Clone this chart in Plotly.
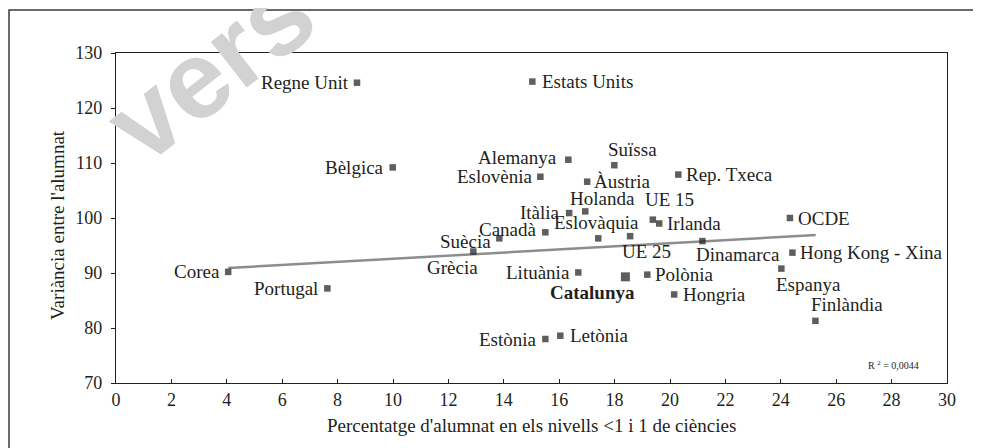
import plotly.graph_objects as go

# ---------------- data ----------------
countries = ["Regne Unit", "Estats Units", "Bèlgica", "Alemanya", "Eslovènia", "Suïssa",
             "Àustria", "Rep. Txeca", "Holanda", "Itàlia", "UE 15", "Irlanda", "OCDE",
             "Canadà", "Eslovàquia", "UE 25", "Suècia", "Grècia", "Dinamarca",
             "Hong Kong - Xina", "Corea", "Lituània", "Catalunya", "Polònia", "Espanya",
             "Portugal", "Hongria", "Finlàndia", "Estònia", "Letònia"]
pct_low_levels = [8.70, 15.03, 9.99, 16.33, 15.32, 17.99,
                  17.01, 20.30, 16.94, 16.36, 19.38, 19.61, 24.33,
                  15.50, 17.41, 18.56, 13.84, 12.90, 21.17,
                  24.42, 4.05, 16.69, 18.39, 19.18, 24.02,
                  7.63, 20.15, 25.25, 15.50, 16.04]
variance_between = [124.6, 124.8, 109.2, 110.6, 107.5, 109.6,
                    106.6, 107.9, 101.2, 100.9, 99.7, 99.0, 100.0,
                    97.4, 96.3, 96.7, 96.3, 93.9, 95.8,
                    93.7, 90.2, 90.1, 89.3, 89.7, 90.8,
                    87.2, 86.1, 81.3, 78.0, 78.6]
trend_x = [4.05, 25.26]
trend_y = [90.9, 96.9]
x_tick_values = list(range(0, 31, 2))
y_tick_values = [70, 80, 90, 100, 110, 120, 130]
r2_label = "R <sup>2</sup> = 0,0044"
x_title = "Percentatge d'alumnat en els nivells <1 i 1 de ciències"
y_title = "Variància entre l'alumnat"
highlight = "Catalunya"

# ---------------- label placement (style only) ----------------
placement = {
    "Regne Unit": ("L", 0, 0), "Estats Units": ("R", 2, 0), "Bèlgica": ("L", -1, 0),
    "Alemanya": ("L", -3, 2), "Eslovènia": ("L", 0, 0), "Suïssa": ("T", 18, 3),
    "Àustria": ("R", -1, 0), "Rep. Txeca": ("R", 0, 0), "Holanda": ("T", 17, 0),
    "Itàlia": ("L", -1, 1), "UE 15": ("T", 17, 8), "Irlanda": ("R", 0, 0),
    "OCDE": ("R", 0, 0), "Canadà": ("L", 0, 3), "Eslovàquia": ("T", -2, 3),
    "UE 25": ("B", 16, -3), "Suècia": ("L", 0, -3), "Grècia": ("B", -21, -3),
    "Dinamarca": ("B", 36, -1), "Hong Kong - Xina": ("R", 0, 0), "Corea": ("L", 0, 0),
    "Lituània": ("L", 0, 0), "Catalunya": ("B", -33, -3), "Polònia": ("R", 0, 0),
    "Espanya": ("B", 27, -3), "Portugal": ("L", -1, 0), "Hongria": ("R", 1, 0),
    "Finlàndia": ("T", 32, 4), "Estònia": ("L", 0, 0), "Letònia": ("R", 2, 0),
}

FONT = "Liberation Serif, Times New Roman, serif"
OFF = 8  # page body margin
W, H = 981, 448
L, R, T, B = 108, 42, 45, 73
pw, ph = W - L - R, H - T - B


def px_to_paper_x(px):  # page pixel -> paper
    return (px - OFF - L) / pw


def px_to_paper_y(py):
    return (H - B - (py - OFF)) / ph


fig = go.Figure()

fig.add_trace(go.Scatter(
    x=trend_x, y=trend_y, mode="lines",
    line=dict(color="#8c8c8c", width=2.5), hoverinfo="skip", showlegend=False))

fig.add_trace(go.Scatter(
    x=pct_low_levels, y=variance_between, mode="markers", text=countries,
    marker=dict(symbol="square", color="#1a1a1a",
                size=[9 if c == highlight else 6.5 for c in countries], line=dict(width=0)),
    showlegend=False))

annotations = []
# watermark (first, so everything else is drawn over it)
annotations.append(dict(
    x=px_to_paper_x(210), y=px_to_paper_y(68), xref="paper", yref="paper", text="<b>vers</b>",
    textangle=-38, showarrow=False, xanchor="center", yanchor="middle",
    font=dict(family="Liberation Sans, Arial, sans-serif", size=110, color="#d2d2d2")))

for c, xv, yv in zip(countries, pct_low_levels, variance_between):
    pos, dx, dy = placement[c]
    if pos == "L":
        xa, ya, xs, ys = "right", "middle", -6 + dx, dy
    elif pos == "R":
        xa, ya, xs, ys = "left", "middle", 6 + dx, dy
    elif pos == "T":
        xa, ya, xs, ys = "center", "bottom", dx, dy
    else:
        xa, ya, xs, ys = "center", "top", dx, dy
    txt = f"<b>{c}</b>" if c == highlight else c
    annotations.append(dict(
        x=xv, y=yv, xref="x", yref="y", text=txt, showarrow=False,
        xanchor=xa, yanchor=ya, xshift=xs, yshift=ys,
        font=dict(family=FONT, size=19, color="#231f20")))

# axis titles
annotations.append(dict(
    x=px_to_paper_x(57), y=px_to_paper_y(225), xref="paper", yref="paper", text=y_title,
    textangle=-90, showarrow=False, xanchor="center", yanchor="middle",
    font=dict(family=FONT, size=19, color="#231f20")))
annotations.append(dict(
    x=px_to_paper_x(531), y=px_to_paper_y(425), xref="paper", yref="paper", text=x_title,
    showarrow=False, xanchor="center", yanchor="middle",
    font=dict(family=FONT, size=19, color="#231f20")))
# R squared
annotations.append(dict(
    x=px_to_paper_x(893), y=px_to_paper_y(365), xref="paper", yref="paper", text=r2_label,
    showarrow=False, xanchor="center", yanchor="middle",
    font=dict(family=FONT, size=10, color="#231f20")))

shapes = [dict(
    type="rect", xref="paper", yref="paper",
    x0=px_to_paper_x(OFF + 1), x1=px_to_paper_x(1000), y0=px_to_paper_y(470), y1=px_to_paper_y(10),
    line=dict(color="#3a3a3a", width=1.5), fillcolor="rgba(0,0,0,0)", layer="below")]

axis_common = dict(showgrid=False, zeroline=False, showline=True, linecolor="#231f20",
                   linewidth=1.2, mirror=True, ticklen=4,
                   tickcolor="#231f20", tickfont=dict(family=FONT, size=18, color="#231f20"))

fig.update_layout(
    width=W, height=H, margin=dict(l=L, r=R, t=T, b=B),
    paper_bgcolor="white", plot_bgcolor="white",
    annotations=annotations, shapes=shapes, showlegend=False,
    xaxis=dict(range=[0, 30], tickvals=x_tick_values, ticks="inside", **axis_common),
    yaxis=dict(range=[70, 130], tickvals=y_tick_values, ticks="outside",
               ticklabelstandoff=5, **axis_common),
)

fig.write_html("out.html")
